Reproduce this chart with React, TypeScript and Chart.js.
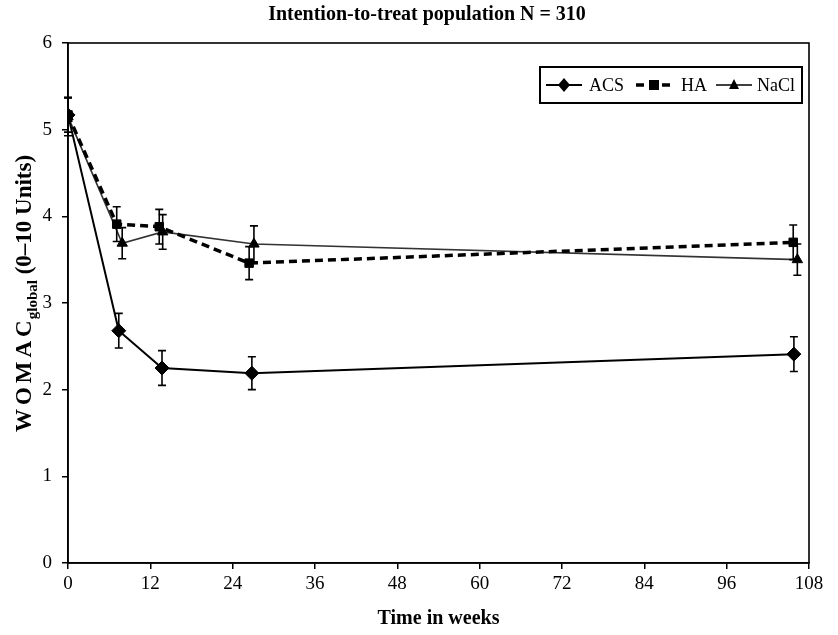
import React, { useEffect, useRef } from "react";
import { Chart, registerables } from "chart.js";

Chart.register(...registerables);

const TITLE = "Intention-to-treat population N = 310";
const X_TITLE = "Time in weeks";
const Y_TITLE_MAIN = "WOMAC";
const Y_TITLE_SUB = "global";
const Y_TITLE_REST = " (0\u201310 Units)";

const seriesNames = ["ACS", "HA", "NaCl"];

const weeksACS = [0, 7.4, 13.7, 26.8, 105.8];
const acs = [5.17, 2.68, 2.25, 2.19, 2.41];
const acsErr = [0.2, 0.2, 0.2, 0.19, 0.2];

const weeksHA = [0, 7.1, 13.3, 26.4, 105.7];
const ha = [5.17, 3.91, 3.88, 3.46, 3.7];
const haErr = [0.2, 0.2, 0.2, 0.19, 0.2];

const weeksNaCl = [0, 7.9, 13.8, 27.1, 106.3];
const nacl = [5.15, 3.69, 3.82, 3.68, 3.5];
const naclErr = [0.22, 0.18, 0.2, 0.21, 0.18];

const xTicks = [0, 12, 24, 36, 48, 60, 72, 84, 96, 108];
const yTicks = [0, 1, 2, 3, 4, 5, 6];

const FONT = "'Liberation Serif', 'Times New Roman', serif";

const toPts = (xs: number[], ys: number[]) => xs.map((x, i) => ({ x, y: ys[i] }));

const errorBarPlugin = {
  id: "errorBars",
  afterDatasetsDraw(chart: any) {
    const ctx = chart.ctx;
    const xs = chart.scales.x;
    const ys = chart.scales.y;
    chart.data.datasets.forEach((ds: any) => {
      if (!ds.errors) return;
      ctx.save();
      ctx.strokeStyle = "#000";
      ctx.lineWidth = 1.6;
      ds.data.forEach((p: any, i: number) => {
        const e = ds.errors[i];
        const px = xs.getPixelForValue(p.x);
        const top = ys.getPixelForValue(p.y + e);
        const bot = ys.getPixelForValue(p.y - e);
        ctx.beginPath();
        ctx.moveTo(px, top);
        ctx.lineTo(px, bot);
        ctx.moveTo(px - 4, top);
        ctx.lineTo(px + 4, top);
        ctx.moveTo(px - 4, bot);
        ctx.lineTo(px + 4, bot);
        ctx.stroke();
      });
      ctx.restore();
    });
  },
};

const decorPlugin = {
  id: "decor",
  afterDraw(chart: any) {
    const ctx = chart.ctx;
    const a = chart.chartArea;
    ctx.save();
    // frame
    ctx.strokeStyle = "#000";
    ctx.lineWidth = 1.6;
    ctx.strokeRect(a.left, a.top, a.right - a.left, a.bottom - a.top);

    // title
    ctx.fillStyle = "#000";
    ctx.font = `bold 20px ${FONT}`;
    ctx.textAlign = "center";
    ctx.textBaseline = "middle";
    ctx.fillText(TITLE, 427, 15);

    // y title with subscript
    ctx.save();
    ctx.translate(31, 292);
    ctx.rotate(-Math.PI / 2);
    ctx.textAlign = "left";
    ctx.textBaseline = "alphabetic";
    const mainFont = `bold 23px ${FONT}`;
    const subFont = `bold 15px ${FONT}`;
    ctx.font = mainFont;
    const spacing = 4;
    let wMain = 0;
    for (const ch of Y_TITLE_MAIN) wMain += ctx.measureText(ch).width + spacing;
    const wRest = ctx.measureText(Y_TITLE_REST).width;
    ctx.font = subFont;
    const wSub = ctx.measureText(Y_TITLE_SUB).width;
    const total = wMain + wSub + wRest;
    let x = -total / 2;
    ctx.font = mainFont;
    for (const ch of Y_TITLE_MAIN) {
      ctx.fillText(ch, x, 0);
      x += ctx.measureText(ch).width + spacing;
    }
    x -= spacing - 1;
    ctx.font = subFont;
    ctx.fillText(Y_TITLE_SUB, x, 6);
    x += wSub;
    ctx.font = mainFont;
    ctx.fillText(Y_TITLE_REST, x, 0);
    ctx.restore();

    // legend
    const lx = 540, ly = 67, lw = 262, lh = 36;
    ctx.fillStyle = "#fff";
    ctx.fillRect(lx, ly, lw, lh);
    ctx.strokeStyle = "#000";
    ctx.lineWidth = 2;
    ctx.strokeRect(lx, ly, lw, lh);
    const cy = ly + lh / 2;
    const items = chart.data.datasets;
    const lineStarts = [546, 636, 716];
    const textStarts = [589, 681, 757];
    ctx.font = `18px ${FONT}`;
    ctx.textAlign = "left";
    ctx.textBaseline = "middle";
    items.forEach((ds: any, i: number) => {
      const x0 = lineStarts[i];
      const x1 = x0 + 36;
      ctx.save();
      ctx.strokeStyle = "#000";
      ctx.lineWidth = ds.borderWidth;
      ctx.setLineDash(ds.borderDash || []);
      ctx.beginPath();
      ctx.moveTo(x0, cy);
      ctx.lineTo(x1, cy);
      ctx.stroke();
      ctx.restore();
      const mx = (x0 + x1) / 2;
      ctx.fillStyle = "#000";
      ctx.beginPath();
      if (ds.pointStyle === "rectRot") {
        ctx.moveTo(mx, cy - 7);
        ctx.lineTo(mx + 6, cy);
        ctx.lineTo(mx, cy + 7);
        ctx.lineTo(mx - 6, cy);
      } else if (ds.pointStyle === "rect") {
        ctx.rect(mx - 5, cy - 5, 10, 10);
      } else {
        ctx.moveTo(mx, cy - 6);
        ctx.lineTo(mx + 5, cy + 4);
        ctx.lineTo(mx - 5, cy + 4);
      }
      ctx.closePath();
      ctx.fill();
      ctx.fillStyle = "#000";
      ctx.fillText(ds.label, textStarts[i], cy + 1);
    });
    ctx.restore();
  },
};

export default function App() {
  const ref = useRef<HTMLCanvasElement | null>(null);
  useEffect(() => {
    if (!ref.current) return;
    const chart = new Chart(ref.current, {
      type: "scatter",
      data: {
        datasets: [
          {
            label: seriesNames[0],
            data: toPts(weeksACS, acs),
            errors: acsErr,
            showLine: true,
            borderColor: "#000",
            backgroundColor: "#000",
            borderWidth: 2,
            pointStyle: "rectRot",
            pointRadius: 7,
            pointBorderWidth: 1,
          } as any,
          {
            label: seriesNames[1],
            data: toPts(weeksHA, ha),
            errors: haErr,
            showLine: true,
            borderColor: "#000",
            backgroundColor: "#000",
            borderWidth: 3.5,
            borderDash: [8, 5],
            pointStyle: "rect",
            pointRadius: 6,
            pointBorderWidth: 1,
          } as any,
          {
            label: seriesNames[2],
            data: toPts(weeksNaCl, nacl),
            errors: naclErr,
            showLine: true,
            borderColor: "#333",
            backgroundColor: "#000",
            pointBorderColor: "#000",
            borderWidth: 1.6,
            pointStyle: "triangle",
            pointRadius: 6,
            pointBorderWidth: 1,
          } as any,
        ],
      },
      options: {
        responsive: false,
        animation: false,
        layout: { padding: { top: 43, right: 29, left: 0, bottom: 0 } },
        plugins: {
          legend: { display: false },
          tooltip: { enabled: false },
          title: { display: false },
        },
        scales: {
          x: {
            type: "linear",
            min: 0,
            max: 108,
            afterBuildTicks: (s: any) => {
              s.ticks = xTicks.map((v) => ({ value: v }));
            },
            afterFit: (s: any) => {
              s.height = 72;
            },
            grid: {
              drawOnChartArea: false,
              drawTicks: true,
              tickLength: 6,
              color: "#000",
              lineWidth: 1.5,
            },
            border: { color: "#000", width: 1.6 },
            ticks: {
              color: "#000",
              font: { family: FONT, size: 19 },
              padding: 4,
              maxRotation: 0,
              autoSkip: false,
            },
            title: {
              display: true,
              text: X_TITLE,
              color: "#000",
              font: { family: FONT, size: 20, weight: "bold" },
              padding: { top: 10 },
            },
          },
          y: {
            type: "linear",
            min: 0,
            max: 6,
            afterBuildTicks: (s: any) => {
              s.ticks = yTicks.map((v) => ({ value: v }));
            },
            afterFit: (s: any) => {
              s.width = 68;
            },
            grid: {
              drawOnChartArea: false,
              drawTicks: true,
              tickLength: 6,
              color: "#000",
              lineWidth: 1.5,
            },
            border: { color: "#000", width: 1.6 },
            ticks: {
              color: "#000",
              font: { family: FONT, size: 19 },
              padding: 10,
            },
          },
        },
      } as any,
      plugins: [errorBarPlugin, decorPlugin],
    });
    return () => chart.destroy();
  }, []);
  return (
    <div style={{ position: "fixed", left: 0, top: 0, width: 838, height: 635, background: "#fff" }}>
      <canvas ref={ref} width={838} height={635} style={{ width: 838, height: 635 }} />
    </div>
  );
}
